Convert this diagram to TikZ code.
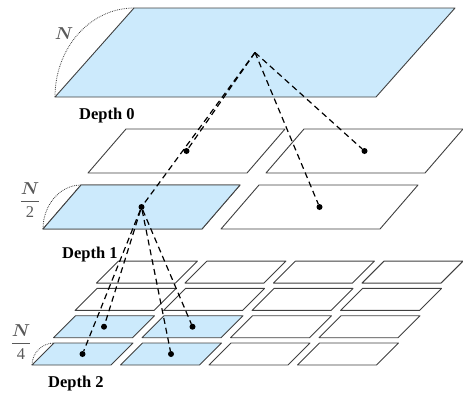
\documentclass[tikz,border=0pt]{standalone}
\usepackage{amsmath}
\usepackage{fontspec}
\setmainfont{Liberation Serif}
\usepackage{xcolor}
\usepackage{tikz}
\usetikzlibrary{positioning,calc}

\definecolor{cellblue}{RGB}{204,234,252}

% one slanted cell: x, y (bottom left), width, height, slant, fill
\newcommand{\slab}[6]{%
    \filldraw[plane,fill=#6] (#1,#2) -- ++(#3,0) -- ++(#5,-#4) -- ++(-#3,0) -- cycle;}

\begin{document}
\begin{tikzpicture}[
    x=1pt, y=-1pt,
    font=\fontsize{16.5}{19}\selectfont,
    plane/.style={
        draw=black!75,
        line width=0.9pt,
        line join=round
    },
    link/.style={
        line width=1.2pt,
        dash pattern=on 6pt off 4pt
    },
    dot/.style={
        circle,
        fill=black,
        inner sep=0pt,
        minimum size=6pt
    },
    side/.style={line width=0.8pt, dash pattern=on 0.8pt off 1pt, black!75},
    size/.style={text=black!65, inner sep=0pt},
    level/.style={font=\fontsize{16.5}{19}\selectfont\bfseries, anchor=base west, inner sep=0pt}
]
\useasboundingbox (0,0) rectangle (463,392);

% depth 0
\slab{55}{97}{321}{89}{79}{cellblue}
\coordinate (c0) at (255,52.5);

% depth 1
\foreach \i in {0,1}
  \foreach \j in {0,1} {
    \pgfmathsetmacro\bx{43+\i*45+\j*178}
    \pgfmathsetmacro\by{229-\i*56}
    \slab{\bx}{\by}{159}{44}{38}{white}
  }
\slab{43}{229}{159}{44}{38}{cellblue}

% depth 2
\foreach \i in {0,...,3}
  \foreach \j in {0,...,3} {
    \pgfmathsetmacro\bx{32+\i*21.5+\j*88.5}
    \pgfmathsetmacro\by{365-\i*27.3}
    \ifnum\i<2 \ifnum\j<2
      \slab{\bx}{\by}{79}{22}{22}{cellblue}
    \else
      \slab{\bx}{\by}{79}{22}{22}{white}
    \fi \else
      \slab{\bx}{\by}{79}{22}{22}{white}
    \fi
  }

% side lengths
\draw[side] (55,97) .. controls (55,48) and (90,8) .. (134,8);
\draw[side] (43,229) .. controls (43,205) and (60,185) .. (81,185);
\draw[side] (32,365) .. controls (32,353) and (42,343) .. (54,343);

\node[size] (n0) at (64,34) {$\boldsymbol{N}$};
\node[size] (n1) at (30,200) {$\dfrac{\boldsymbol{N}}{\text{2}}$};
\node[size] (n2) at (21,342) {$\dfrac{\boldsymbol{N}}{\text{4}}$};

\node[level] (lab0) at (79,119) {Depth 0};
\node[level] (lab1) at (62,258) {Depth 1};
\node[level] (lab2) at (48,387) {Depth 2};

% cell centres
\node[dot] (d1a) at (141.5,207) {};
\node[dot] (d1b) at (319.5,207) {};
\node[dot] (d1c) at (186.5,151) {};
\node[dot] (d1d) at (364.5,151) {};

\node[dot] (d2a) at (82.5,354) {};
\node[dot] (d2b) at (171,354) {};
\node[dot] (d2c) at (104,326.7) {};
\node[dot] (d2d) at (192.5,326.7) {};

% parent to children
\foreach \c in {d1a,d1b,d1c,d1d}
    \draw[link] (c0) -- (\c);
\foreach \c in {d2a,d2b,d2c,d2d}
    \draw[link] (d1a) -- (\c);

\end{tikzpicture}
\end{document}
